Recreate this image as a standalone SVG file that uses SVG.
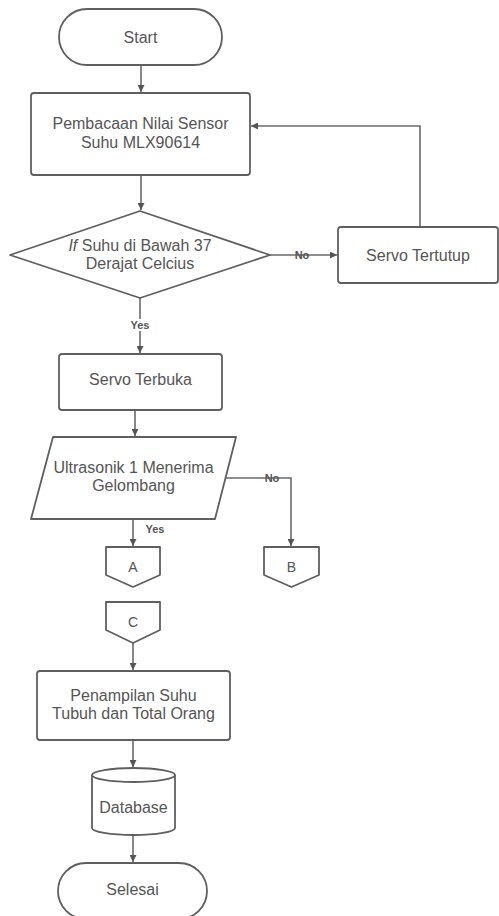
<svg xmlns="http://www.w3.org/2000/svg" width="499" height="916" viewBox="0 0 499 916">
<defs>
<style>
.n{fill:#fff;stroke:#5f5f5f;stroke-width:1.8;stroke-linejoin:round}
.t{font-family:"Liberation Sans",Arial,sans-serif;font-size:16px;fill:#555;text-anchor:middle}
.s{font-family:"Liberation Sans",Arial,sans-serif;font-size:14px;fill:#555;text-anchor:middle}
.l{font-family:"Liberation Sans",Arial,sans-serif;font-size:11px;font-weight:bold;fill:#555;text-anchor:middle}
.c{fill:none;stroke:#6a6a6a;stroke-width:1.6}
</style>
<marker id="ah" viewBox="0 0 10 10" refX="10" refY="5" markerWidth="7" markerHeight="7" markerUnits="userSpaceOnUse" orient="auto">
<path d="M0,0 L10,5 L0,10 Z" fill="#555"/>
</marker>
</defs>
<rect width="499" height="916" fill="#fff"/>
<g id="connectors">
<path class="c" d="M141,65 V92" marker-end="url(#ah)"/>
<path class="c" d="M141,175 V210" marker-end="url(#ah)"/>
<path class="c" d="M270,255 H337" marker-end="url(#ah)"/>
<path class="c" d="M420,227 V126 H251" marker-end="url(#ah)"/>
<path class="c" d="M140,298 V353" marker-end="url(#ah)"/>
<path class="c" d="M135,410 V436" marker-end="url(#ah)"/>
<path class="c" d="M133,519 V546" marker-end="url(#ah)"/>
<path class="c" d="M226,478 H291 V546" marker-end="url(#ah)"/>
<path class="c" d="M133,643 V670" marker-end="url(#ah)"/>
<path class="c" d="M133,740 V767" marker-end="url(#ah)"/>
<path class="c" d="M133,835 V862" marker-end="url(#ah)"/>
<text class="l" x="302" y="259">No</text>
<rect x="128" y="319" width="24" height="12" fill="#fff"/>
<text class="l" x="140" y="329">Yes</text>
<text class="l" x="155" y="533">Yes</text>
<text class="l" x="272" y="482">No</text>
</g>
<g id="start">
<rect class="n" x="59" y="9" width="163" height="56" rx="28"/>
<text class="t" x="140.5" y="42.5">Start</text>
</g>
<g id="baca">
<rect class="n" x="31" y="93" width="219" height="82" rx="3"/>
<text class="t" x="140.5" y="128.5">Pembacaan Nilai Sensor</text>
<text class="t" x="140.5" y="147.5">Suhu MLX90614</text>
</g>
<g id="cek-suhu">
<polygon class="n" points="140,211 270,255 140,298 10,255"/>
<text class="t" x="140" y="250.5"><tspan font-style="italic">If</tspan> Suhu di Bawah 37</text>
<text class="t" x="140" y="268.5">Derajat Celcius</text>
</g>
<g id="servo-tertutup">
<rect class="n" x="338" y="227" width="160" height="56" rx="3"/>
<text class="t" x="418" y="260.5">Servo Tertutup</text>
</g>
<g id="servo-terbuka">
<rect class="n" x="59" y="354" width="163" height="56" rx="3"/>
<text class="t" x="140.5" y="385">Servo Terbuka</text>
</g>
<g id="ultrasonik">
<polygon class="n" points="53,437 236,437 215,519 31,519"/>
<text class="t" x="133.5" y="472.5">Ultrasonik 1 Menerima</text>
<text class="t" x="133.5" y="490.5">Gelombang</text>
</g>
<g id="A">
<path class="n" d="M106,547 H160 V575 L133,587 L106,575 Z"/>
<text class="s" x="133" y="572">A</text>
</g>
<g id="B">
<path class="n" d="M264,547 H319 V575 L291.5,587 L264,575 Z"/>
<text class="s" x="291.5" y="572">B</text>
</g>
<g id="C">
<path class="n" d="M106,602 H160 V630 L133,643 L106,630 Z"/>
<text class="s" x="133" y="627">C</text>
</g>
<g id="tampil">
<rect class="n" x="37" y="671" width="193" height="69" rx="3"/>
<text class="t" x="133.5" y="700.5">Penampilan Suhu</text>
<text class="t" x="133.5" y="718.5">Tubuh dan Total Orang</text>
</g>
<g id="database">
<path class="n" d="M92,775 A41.5,7 0 0 1 175,775 V828 A41.5,7 0 0 1 92,828 Z"/>
<path class="n" fill="none" d="M92,775 A41.5,7 0 0 0 175,775"/>
<text class="t" x="133.5" y="812.5">Database</text>
</g>
<g id="selesai">
<rect class="n" x="58" y="863" width="149" height="56" rx="28"/>
<text class="t" x="132.5" y="894.5">Selesai</text>
</g>
</svg>
